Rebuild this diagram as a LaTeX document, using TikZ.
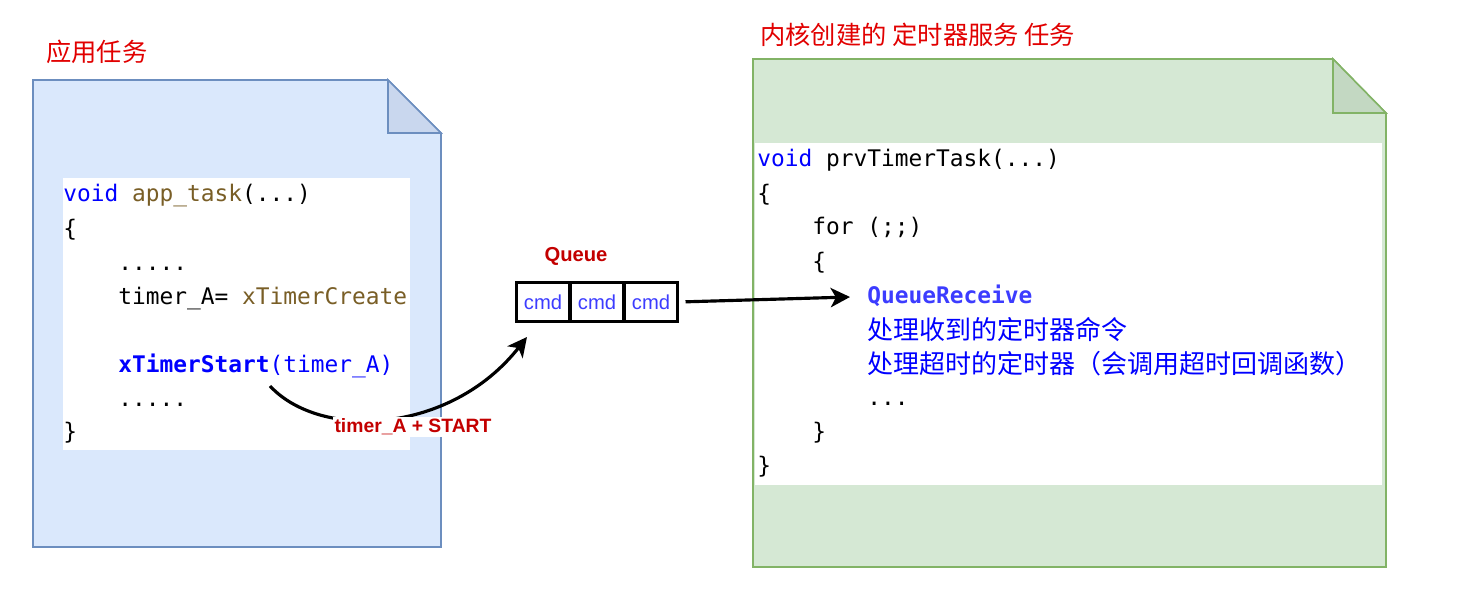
\documentclass[tikz,border=0pt]{standalone}
\usepackage{fontspec}
\setmainfont{Liberation Sans}
\setmonofont{DejaVu Sans Mono}
\newfontfamily\cjk{Noto Sans CJK SC}
\usetikzlibrary{arrows.meta}
\definecolor{docblue}{HTML}{DAE8FC}
\definecolor{docbluestroke}{HTML}{6C8EBF}
\definecolor{foldblue}{HTML}{C9D7EE}
\definecolor{docgreen}{HTML}{D5E8D4}
\definecolor{docgreenstroke}{HTML}{82B366}
\definecolor{foldgreen}{HTML}{C3D8C2}
\definecolor{tred}{RGB}{225,0,0}
\definecolor{lred}{RGB}{195,0,0}
\definecolor{kwblue}{RGB}{0,0,255}
\definecolor{fnbrown}{RGB}{121,94,38}
\definecolor{qblue}{RGB}{60,60,255}
\begin{document}
\begin{tikzpicture}[x=0.02cm,y=-0.02cm,
  title/.style={anchor=west,inner sep=0,font=\cjk\fontsize{14.4}{16}\selectfont,text=tred},
  code/.style={anchor=west,inner sep=0,text height=9.5pt,text depth=3pt,font=\ttfamily\fontsize{13}{15}\selectfont},
  cn/.style={anchor=west,inner sep=0,font=\cjk\fontsize{14.8}{16}\selectfont,text=kwblue},
  cell/.style={draw=black,line width=1.7pt,minimum width=30.6pt,minimum height=22.7pt,inner sep=0,font=\fontsize{11.5}{13}\selectfont,text=qblue},
  lbl/.style={font=\bfseries\fontsize{11}{13}\selectfont,text=lred,inner sep=1pt},
  arr/.style={line width=1.8pt,-{Stealth[length=11pt,width=11pt,inset=3pt]}}
]
\useasboundingbox (0,0) rectangle (1460,601);
% left document
\path[fill=docblue,draw=docbluestroke,line width=0.9pt] (33,80) -- (388,80) -- (441,133) -- (441,547) -- (33,547) -- cycle;
\path[fill=foldblue,draw=docbluestroke,line width=0.9pt] (388,80) -- (388,133) -- (441,133) -- cycle;
\fill[white] (63,178) rectangle (410,450);
% right document
\path[fill=docgreen,draw=docgreenstroke,line width=0.9pt] (753,59) -- (1333,59) -- (1386,113) -- (1386,567) -- (753,567) -- cycle;
\path[fill=foldgreen,draw=docgreenstroke,line width=0.9pt] (1333,59) -- (1333,113) -- (1386,113) -- cycle;
\fill[white] (755,143) rectangle (1382,485);
% titles
\node[title] (t1) at (46,52) {应用任务};
\node[title] (t2) at (760,35) {内核创建的 定时器服务 任务};
% left code
\node[code] (l1) at (63,196) {\textcolor{kwblue}{void} \textcolor{fnbrown}{app\_task}(...)};
\node[code] (l2) at (63,231) {\{};
\node[code] (l3) at (118,265) {.....};
\node[code] (l4) at (118,299) {timer\_A= \textcolor{fnbrown}{xTimerCreate}};
\node[code,text=kwblue] (l5) at (118,367) {\textbf{xTimerStart}(timer\_A)};
\node[code] (l6) at (118,401) {.....};
\node[code] (l7) at (63,434) {\}};
% right code
\node[code] (r1) at (757,161) {\textcolor{kwblue}{void} prvTimerTask(...)};
\node[code] (r2) at (757,196) {\{};
\node[code] (r3) at (812,229) {for (;;)};
\node[code] (r4) at (812,264) {\{};
\node[code,text=qblue] (r5) at (867,298) {\textbf{QueueReceive}};
\node[cn] (r6) at (867,330) {处理收到的定时器命令};
\node[cn] (r7) at (867,364) {处理超时的定时器（会调用超时回调函数）};
\node[code] (r8) at (867,400) {...};
\node[code] (r9) at (812,434) {\}};
\node[code] (r10) at (757,468) {\}};
% queue
\node[lbl,font=\bfseries\fontsize{11.5}{13}\selectfont] (qt) at (576,256) {Queue};
\node[cell] (c1) at (543,302) {cmd};
\node[cell] (c2) at (597,302) {cmd};
\node[cell] (c3) at (651,302) {cmd};
% arrows
\coordinate (s) at (270,386);
\coordinate (qtip) at (527,337);
\coordinate (rtip) at (850,297);
\draw[arr] (s) .. controls (320,440) and (450,435) .. (qtip);
\node[lbl,fill=white] (lab) at (413,427) {timer\_A + START};
\draw[arr,shorten <=3.5pt] (c3.east) -- (rtip);
\end{tikzpicture}
\end{document}
